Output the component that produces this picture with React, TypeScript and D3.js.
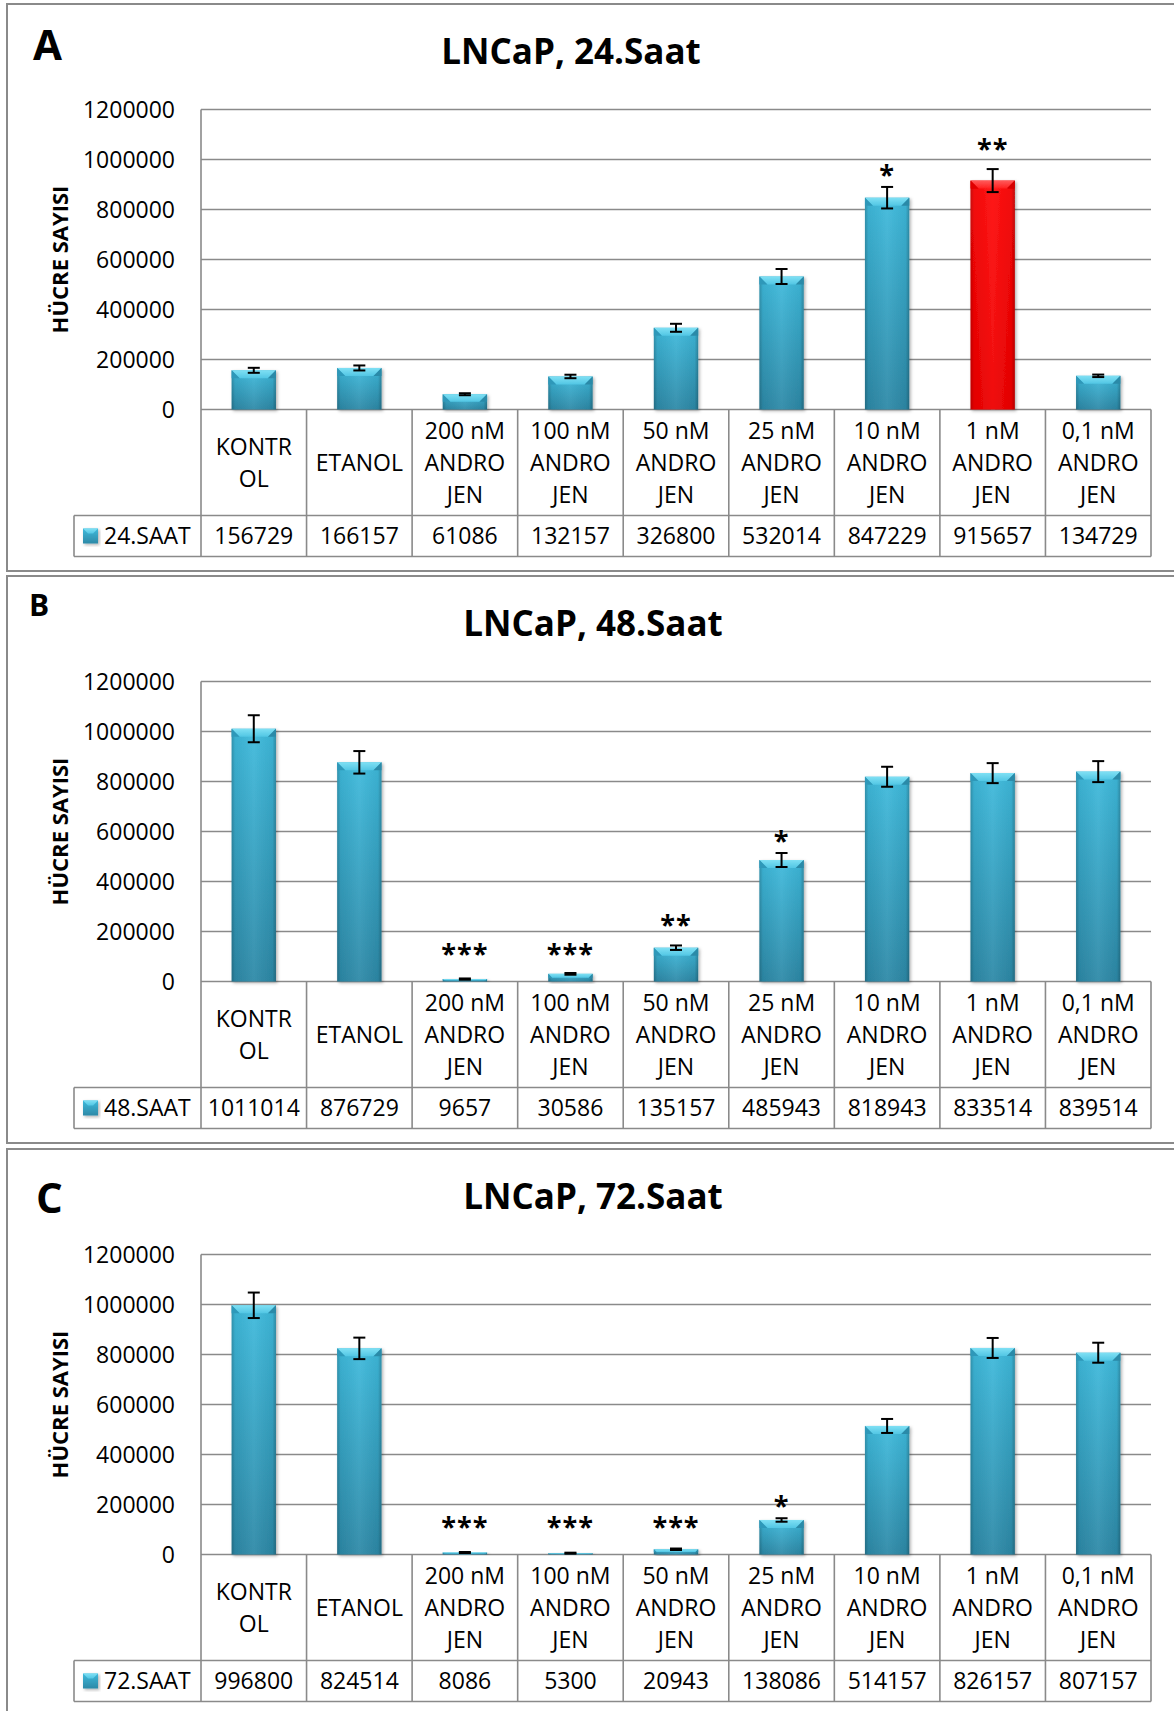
import React from 'react';
import * as d3 from 'd3';

// category labels, already wrapped the way the table shows them
const categoryLines = [
  ['KONTR', 'OL'],
  ['ETANOL'],
  ['200 nM', 'ANDRO', 'JEN'],
  ['100 nM', 'ANDRO', 'JEN'],
  ['50 nM', 'ANDRO', 'JEN'],
  ['25 nM', 'ANDRO', 'JEN'],
  ['10 nM', 'ANDRO', 'JEN'],
  ['1 nM', 'ANDRO', 'JEN'],
  ['0,1 nM', 'ANDRO', 'JEN'],
];
const categories = categoryLines.map(l => l.join(' '));

const yTicks = [0, 200000, 400000, 600000, 800000, 1000000, 1200000];

const values24 = [156729, 166157, 61086, 132157, 326800, 532014, 847229, 915657, 134729];
const errors24 = [10000, 10000, 4000, 7000, 16000, 30000, 43000, 46000, 5000];
const stars24 = ['', '', '', '', '', '', '*', '**', ''];

const values48 = [1011014, 876729, 9657, 30586, 135157, 485943, 818943, 833514, 839514];
const errors48 = [54000, 45000, 2500, 3500, 9000, 28000, 40000, 40000, 42000];
const stars48 = ['', '', '***', '***', '**', '*', '', '', ''];

const values72 = [996800, 824514, 8086, 5300, 20943, 138086, 514157, 826157, 807157];
const errors72 = [51000, 43000, 2000, 2000, 3000, 7000, 28000, 40000, 40000];
const stars72 = ['', '', '***', '***', '***', '*', '', '', ''];

const FONT = "'Open Sans', 'Liberation Sans', sans-serif";
const GRID = '#8a8a8a';

const width = 1174;
const height = 1711;
const plotLeft = 201;
const plotRight = 1151;

const panels = [
  { letter: 'A', title: 'LNCaP, 24.Saat', legend: '24.SAAT', values: values24, errors: errors24, stars: stars24,
    top: 4, letterX: 33, letterY: 60, letterSize: 42, titleX: 571, red: 7 },
  { letter: 'B', title: 'LNCaP, 48.Saat', legend: '48.SAAT', values: values48, errors: errors48, stars: stars48,
    top: 576, letterX: 29, letterY: 616, letterSize: 30, titleX: 593, red: -1 },
  { letter: 'C', title: 'LNCaP, 72.Saat', legend: '72.SAAT', values: values72, errors: errors72, stars: stars72,
    top: 1149, letterX: 36, letterY: 1213, letterSize: 42, titleX: 593, red: -1 },
];

const Bar = ({ x, y, w, h, red }: { x: number; y: number; w: number; h: number; red: boolean }) => {
  const b = Math.max(0, Math.min(8, h / 2, w / 2));
  const c = red ? 'red' : 'blue';
  return (
    <g filter="url(#shadow)">
      <rect x={x} y={y} width={w} height={h} fill={`url(#${c}Body)`} />
      <rect x={x} y={y} width={w} height={h} fill="url(#edgeShade)" />
      <polygon points={`${x},${y} ${x + w},${y} ${x + w - b},${y + b} ${x + b},${y + b}`} fill={`url(#${c}Bevel)`} />
      <polygon points={`${x},${y} ${x + b},${y + b} ${x},${y + b}`} fill={red ? '#e00000' : '#2f98b9'} />
      <polygon points={`${x + w},${y} ${x + w - b},${y + b} ${x + w},${y + b}`} fill={red ? '#d40000' : '#2b8aa8'} />
    </g>
  );
};

const Panel = ({ p }: { p: typeof panels[number] }) => {
  const zero = p.top + 405.5;
  const y = d3.scaleLinear().domain([0, 1200000]).range([zero, zero - 300]);
  const cols = d3.scaleBand().domain(categories).range([plotLeft, plotRight]);
  const bars = d3.scaleBand().domain(categories).range([plotLeft, plotRight]).paddingInner(0.58).paddingOuter(0.29);
  const catBottom = zero + 106;
  const tableBottom = zero + 147;
  const midY = (y(0) + y(1200000)) / 2;

  return (
    <g>
      <rect x={7} y={p.top} width={1200} height={567} fill="#fff" stroke={GRID} strokeWidth={2} />
      <text x={p.letterX} y={p.letterY} fontFamily={FONT} fontWeight="bold" fontSize={p.letterSize}>{p.letter}</text>
      <text x={p.titleX} y={p.top + 60} textAnchor="middle" fontFamily={FONT} fontWeight="bold" fontSize={35}>{p.title}</text>

      {yTicks.map(t => (
        <g key={t}>
          <line x1={plotLeft} x2={plotRight} y1={y(t)} y2={y(t)} stroke={GRID} strokeWidth={1.6} />
          <text x={175} y={y(t)} dy="0.36em" textAnchor="end" fontFamily={FONT} fontSize={23}>{t}</text>
        </g>
      ))}
      <text transform={`translate(60,${midY}) rotate(-90)`} textAnchor="middle" dy="0.36em"
        fontFamily={FONT} fontWeight="bold" fontSize={22}>HÜCRE SAYISI</text>

      {/* table */}
      <line x1={plotLeft} x2={plotLeft} y1={y(1200000)} y2={tableBottom} stroke={GRID} strokeWidth={1.6} />
      <line x1={74} x2={plotRight} y1={catBottom} y2={catBottom} stroke={GRID} strokeWidth={1.6} />
      <line x1={74} x2={plotRight} y1={tableBottom} y2={tableBottom} stroke={GRID} strokeWidth={1.6} />
      <line x1={74} x2={74} y1={catBottom} y2={tableBottom} stroke={GRID} strokeWidth={1.6} />
      {categories.map(c => (
        <line key={c} x1={cols(c)! + cols.step()} x2={cols(c)! + cols.step()} y1={zero} y2={tableBottom} stroke={GRID} strokeWidth={1.6} />
      ))}
      {categoryLines.map((lines, i) => {
        const cx = cols(categories[i])! + cols.bandwidth() / 2;
        const start = zero + 53 - ((lines.length - 1) * 32) / 2;
        return lines.map((ln, j) => (
          <text key={i + '-' + j} x={cx} y={start + j * 32} dy="0.36em" textAnchor="middle" fontFamily={FONT} fontSize={23}>{ln}</text>
        ));
      })}
      {p.values.map((v, i) => (
        <text key={'v' + i} x={cols(categories[i])! + cols.bandwidth() / 2} y={zero + 126} dy="0.36em" textAnchor="middle"
          fontFamily={FONT} fontSize={23}>{v}</text>
      ))}
      <g filter="url(#shadow)">
        <rect x={83} y={zero + 119} width={15} height={15} fill="url(#blueBody)" />
        <polygon points={`83,${zero + 119} 98,${zero + 119} 93,${zero + 124} 88,${zero + 124}`} fill="url(#blueBevel)" />
      </g>
      <text x={104} y={zero + 126} dy="0.36em" fontFamily={FONT} fontSize={23}>{p.legend}</text>

      {/* bars */}
      {p.values.map((v, i) => (
        <Bar key={'b' + i} x={bars(categories[i])!} y={y(v)} w={bars.bandwidth()} h={zero - y(v)} red={i === p.red} />
      ))}
      {p.values.map((v, i) => {
        const cx = bars(categories[i])! + bars.bandwidth() / 2;
        const e = p.errors[i];
        return (
          <g key={'e' + i} stroke="#000" strokeWidth={2}>
            <line x1={cx} x2={cx} y1={y(v + e)} y2={y(v - e)} />
            <line x1={cx - 6} x2={cx + 6} y1={y(v + e)} y2={y(v + e)} />
            <line x1={cx - 6} x2={cx + 6} y1={y(v - e)} y2={y(v - e)} />
          </g>
        );
      })}
      {p.stars.map((s, i) => {
        if (!s) return null;
        const cx = bars(categories[i])! + bars.bandwidth() / 2;
        const top = y(p.values[i] + p.errors[i]);
        const c = Math.min(top - (s.length === 2 ? 26 : 18), zero - 34);
        return (
          <text key={'s' + i} x={cx} y={c + 15} textAnchor="middle" fontFamily={FONT} fontWeight="bold" fontSize={27}
            letterSpacing={1}>{s}</text>
        );
      })}
    </g>
  );
};

const App = () => {
  return (
    <svg width={width} height={height} style={{ position: 'absolute', left: 0, top: 0, display: 'block', background: '#fff' }}>
      <defs>
        <linearGradient id="blueBody" x1="0" y1="0" x2="0" y2="1">
          <stop offset="0" stopColor="#3ebadc" />
          <stop offset="1" stopColor="#2d89a7" />
        </linearGradient>
        <linearGradient id="redBody" x1="0" y1="0" x2="0" y2="1">
          <stop offset="0" stopColor="#ff0a0a" />
          <stop offset="1" stopColor="#ee0000" />
        </linearGradient>
        <linearGradient id="edgeShade" x1="0" y1="0" x2="1" y2="0">
          <stop offset="0" stopColor="#000" stopOpacity="0.22" />
          <stop offset="0.08" stopColor="#000" stopOpacity="0.05" />
          <stop offset="0.5" stopColor="#fff" stopOpacity="0.06" />
          <stop offset="0.92" stopColor="#000" stopOpacity="0.05" />
          <stop offset="1" stopColor="#000" stopOpacity="0.25" />
        </linearGradient>
        <linearGradient id="blueBevel" x1="0" y1="0" x2="0" y2="1">
          <stop offset="0" stopColor="#7fe0f4" />
          <stop offset="1" stopColor="#52c6e4" />
        </linearGradient>
        <linearGradient id="redBevel" x1="0" y1="0" x2="0" y2="1">
          <stop offset="0" stopColor="#ff5a5a" />
          <stop offset="1" stopColor="#ff2020" />
        </linearGradient>
        <filter id="shadow" x="-20%" y="-20%" width="140%" height="140%">
          <feDropShadow dx="1.5" dy="1.5" stdDeviation="1.5" floodColor="#000" floodOpacity="0.3" />
        </filter>
      </defs>
      {panels.map(p => <Panel key={p.letter} p={p} />)}
    </svg>
  );
};

export default App;
